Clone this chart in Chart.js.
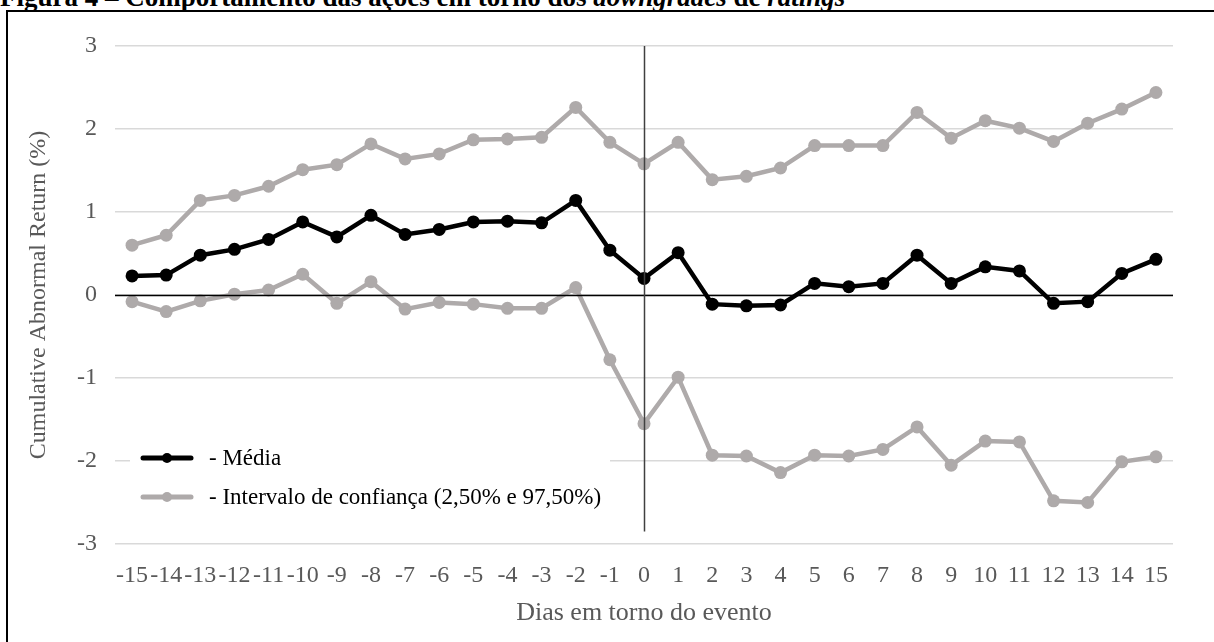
<!DOCTYPE html>
<html>
<head>
<meta charset="utf-8">
<script src="https://cdn.jsdelivr.net/npm/chart.js@4.4.1/dist/chart.umd.min.js"></script>
<style>
    html, body { margin: 0; padding: 0; background: #fff; overflow: hidden; }
    #wrap { position: relative; width: 1214px; height: 642px; }
    #title {
        position: absolute; left: 0; top: -16px;
        font: bold 27px 'Liberation Serif', 'Times New Roman', serif;
        line-height: 27px; white-space: nowrap; color: #000;
    }
    #frame {
        position: absolute; left: 6px; top: 10px; right: 0; bottom: 0;
        border-left: 2px solid #000; border-top: 2px solid #000;
    }
    #chart { position: absolute; left: 0; top: 0; }
</style>
</head>
<body>
<div id="wrap">
    <div id="title">Figura 4 – Comportamento das ações em torno dos <i>downgrades</i> de <i>ratings</i></div>
    <div id="frame"></div>
    <canvas id="chart" width="1214" height="642"></canvas>
</div>

<script>
// Chart data
const days = ['-15', '-14', '-13', '-12', '-11', '-10', '-9', '-8', '-7', '-6', '-5', '-4', '-3', '-2', '-1',
    '0', '1', '2', '3', '4', '5', '6', '7', '8', '9', '10', '11', '12', '13', '14', '15'];

const media = [0.23, 0.24, 0.48, 0.55, 0.67, 0.88, 0.70, 0.96, 0.73, 0.79, 0.88, 0.89, 0.87, 1.14, 0.54,
    0.20, 0.51, -0.11, -0.13, -0.12, 0.14, 0.10, 0.14, 0.48, 0.14, 0.34, 0.29, -0.10, -0.08, 0.26, 0.43];

const upper = [0.60, 0.72, 1.14, 1.20, 1.31, 1.51, 1.57, 1.82, 1.64, 1.70, 1.87, 1.88, 1.90, 2.26, 1.84,
    1.58, 1.84, 1.39, 1.43, 1.53, 1.80, 1.80, 1.80, 2.20, 1.89, 2.10, 2.01, 1.85, 2.07, 2.24, 2.44];

const lower = [-0.08, -0.20, -0.07, 0.01, 0.06, 0.25, -0.10, 0.16, -0.17, -0.09, -0.11, -0.16, -0.16, 0.09, -0.78,
    -1.55, -0.99, -1.93, -1.94, -2.14, -1.93, -1.94, -1.86, -1.59, -2.05, -1.76, -1.77, -2.48, -2.50, -2.01, -1.95];

const yTicks = [-3, -2, -1, 0, 1, 2, 3];
const eventDay = '0';
const eventLine = [3, -2.85];   // vertical marker extent (y values)

const seriesLabels = ['- Média', '- Intervalo de confiança (2,50% e 97,50%)'];

(function() {
    'use strict';

    const BLACK = '#000000';
    const GREY = '#AEAAAA';
    const TEXT = '#595959';
    const FONT = "'Liberation Serif', 'Times New Roman', serif";

    // Zero line, event marker and in-plot legend
    const overlay = {
        id: 'overlay',
        afterDatasetsDraw(chart) {
            const {ctx, chartArea, scales} = chart;
            const x = scales.x, y = scales.y;

            ctx.save();
            // zero line
            const y0 = Math.round(y.getPixelForValue(0)) + 0.5;
            ctx.strokeStyle = '#000';
            ctx.lineWidth = 1.5;
            ctx.beginPath();
            ctx.moveTo(chartArea.left, y0);
            ctx.lineTo(chartArea.right, y0);
            ctx.stroke();

            // event day marker
            const xe = Math.round(x.getPixelForValue(days.indexOf(eventDay))) + 0.5;
            ctx.strokeStyle = '#404040';
            ctx.lineWidth = 1.5;
            ctx.beginPath();
            ctx.moveTo(xe, y.getPixelForValue(eventLine[0]));
            ctx.lineTo(xe, y.getPixelForValue(eventLine[1]));
            ctx.stroke();

            // legend
            const lx = chartArea.left + 15, ly = y.getPixelForValue(-2) - 21;
            ctx.fillStyle = '#fff';
            ctx.fillRect(lx, ly, 480, 75);

            const rows = [
                {color: BLACK, text: seriesLabels[0], cy: ly + 18},
                {color: GREY, text: seriesLabels[1], cy: ly + 57}
            ];
            ctx.font = '23px ' + FONT;
            ctx.textBaseline = 'middle';
            rows.forEach(r => {
                ctx.strokeStyle = r.color;
                ctx.lineWidth = 5;
                ctx.lineCap = 'round';
                ctx.beginPath();
                ctx.moveTo(lx + 13, r.cy);
                ctx.lineTo(lx + 61, r.cy);
                ctx.stroke();
                ctx.fillStyle = r.color;
                ctx.beginPath();
                ctx.arc(lx + 37, r.cy, 5, 0, Math.PI * 2);
                ctx.fill();
                ctx.fillStyle = '#000';
                ctx.fillText(r.text, lx + 79, r.cy + 1);
            });
            ctx.restore();
        }
    };

    function lineSet(label, data, color) {
        return {
            label: label,
            data: data,
            borderColor: color,
            backgroundColor: color,
            borderWidth: 4.5,
            pointRadius: 6.5,
            pointHoverRadius: 6.5,
            pointBorderWidth: 0,
            tension: 0,
            fill: false
        };
    }

    new Chart(document.getElementById('chart'), {
        type: 'line',
        data: {
            labels: days,
            datasets: [
                lineSet(seriesLabels[0], media, BLACK),
                lineSet(seriesLabels[1], upper, GREY),
                lineSet('', lower, GREY)
            ]
        },
        options: {
            responsive: false,
            animation: false,
            layout: {
                padding: {top: 46, right: 41, left: 0, bottom: 0}
            },
            plugins: {
                legend: {display: false},
                tooltip: {enabled: false}
            },
            scales: {
                x: {
                    type: 'category',
                    offset: true,
                    grid: {display: false, drawTicks: false},
                    border: {display: false},
                    ticks: {
                        color: TEXT,
                        font: {family: FONT, size: 24},
                        padding: 17,
                        maxRotation: 0,
                        autoSkip: false
                    },
                    title: {
                        display: true,
                        text: 'Dias em torno do evento',
                        color: TEXT,
                        font: {family: FONT, size: 26},
                        padding: {top: 0, bottom: 13}
                    },
                    afterFit: function(scale) { scale.height = 98; }
                },
                y: {
                    min: yTicks[0],
                    max: yTicks[yTicks.length - 1],
                    afterBuildTicks: function(scale) {
                        scale.ticks = yTicks.map(v => ({value: v}));
                    },
                    grid: {
                        color: '#D9D9D9',
                        lineWidth: 1.5,
                        drawTicks: false
                    },
                    border: {display: false},
                    ticks: {
                        color: TEXT,
                        font: {family: FONT, size: 24},
                        padding: 18
                    },
                    title: {
                        display: true,
                        text: 'Cumulative Abnormal Return (%)',
                        color: TEXT,
                        font: {family: FONT, size: 24},
                        padding: {top: 24, bottom: 0}
                    },
                    afterFit: function(scale) { scale.width = 115; }
                }
            }
        },
        plugins: [overlay]
    });
})();
</script>
</body>
</html>
